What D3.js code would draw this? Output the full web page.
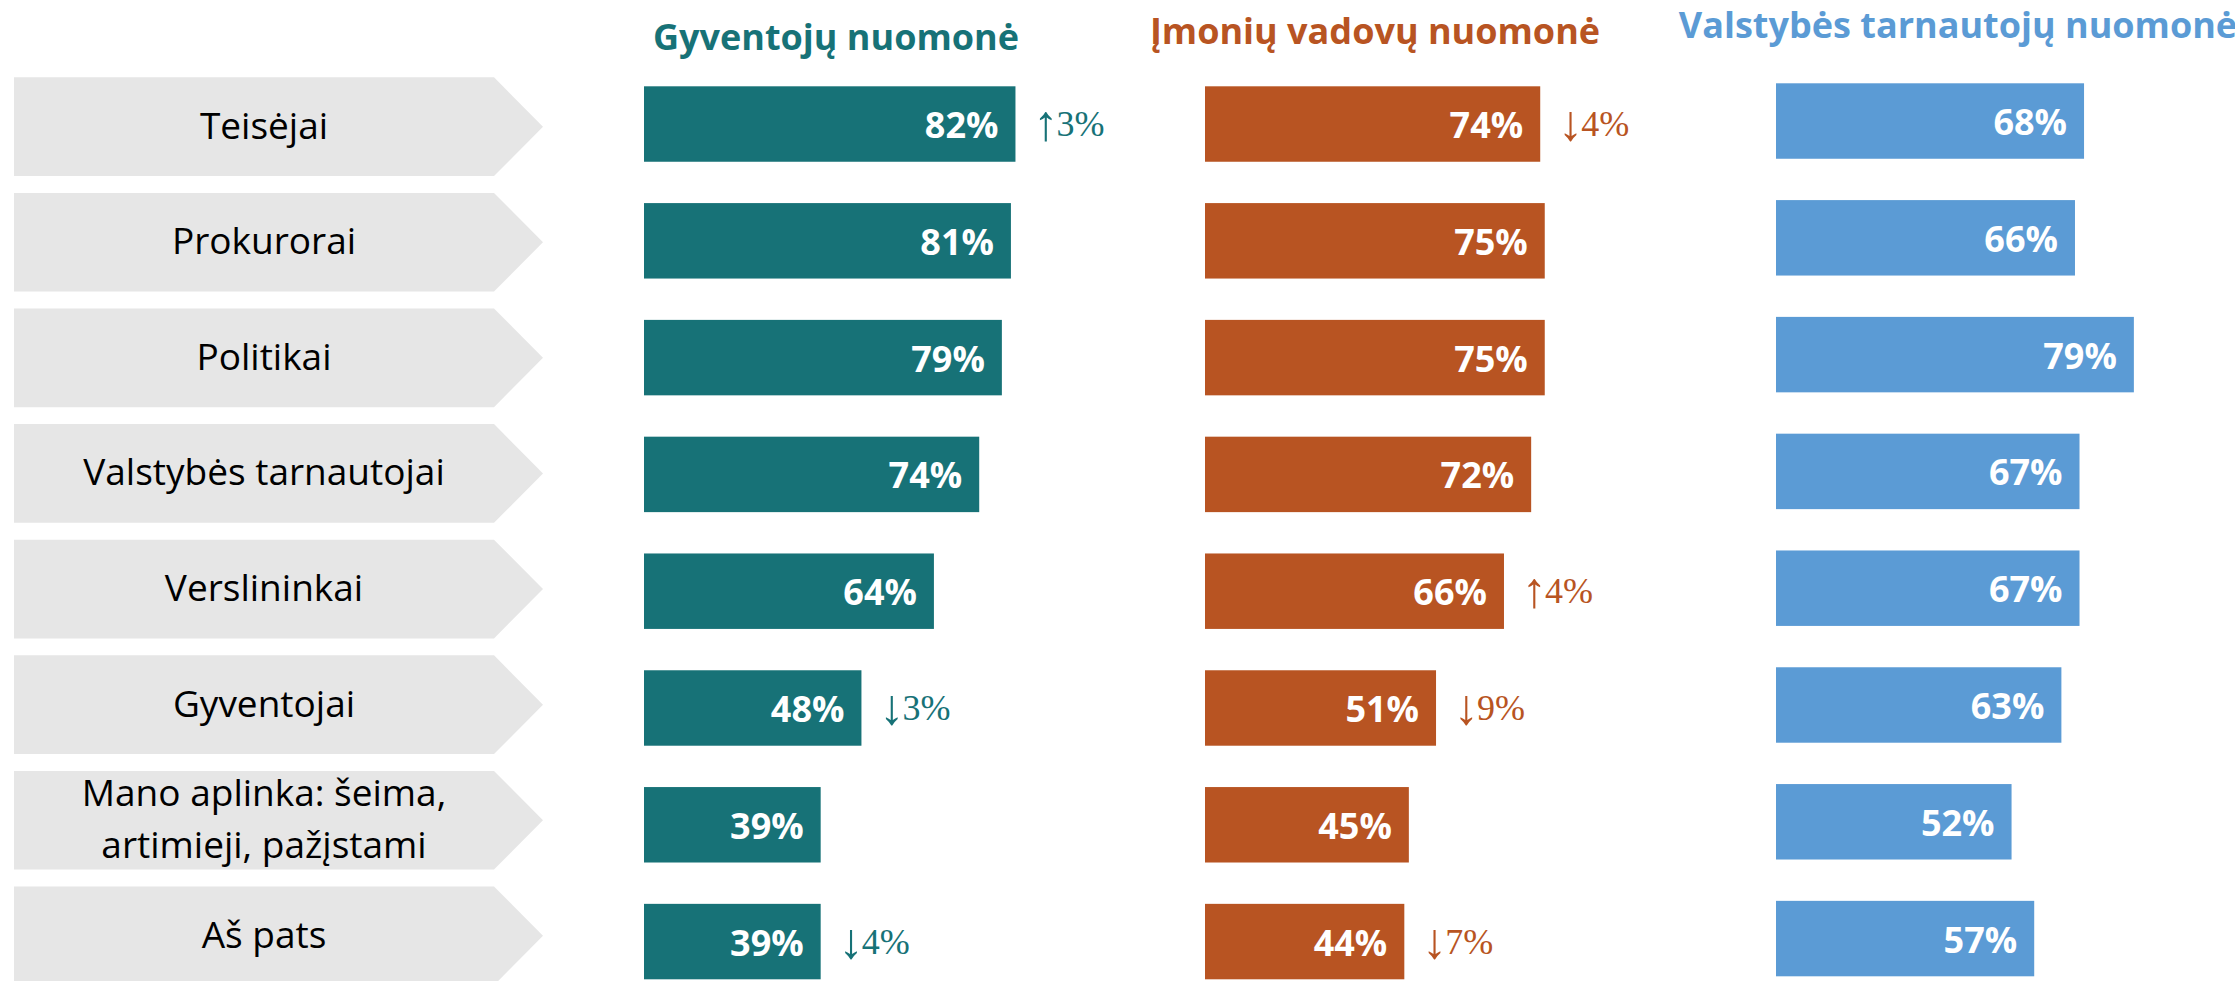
<!DOCTYPE html>
<html>
<head>
<meta charset="utf-8">
<script src="https://cdn.jsdelivr.net/npm/d3@7"></script>
<style>
  body { margin: 0; background: #fff; }
  text { font-family: "Open Sans", "Noto Sans", sans-serif; }
</style>
</head>
<body>
<svg id="chart"></svg>
<script>
// categories (rows), two-line labels split with "|"
var categories = ["Teisėjai", "Prokurorai", "Politikai", "Valstybės tarnautojai",
  "Verslininkai", "Gyventojai", "Mano aplinka: šeima,|artimieji, pažįstami", "Aš pats"];

// series titles
var seriesNames = ["Gyventojų nuomonė", "Įmonių vadovų nuomonė", "Valstybės tarnautojų nuomonė"];

// values, %
var gyventojai = [82, 81, 79, 74, 64, 48, 39, 39];
var imoniuVadovai = [74, 75, 75, 72, 66, 51, 45, 44];
var valstTarnautojai = [68, 66, 79, 67, 67, 63, 52, 57];

// change vs previous survey, percentage points (null = not shown)
var gyventojaiChange = [3, null, null, null, null, -3, null, -4];
var imoniuVadovaiChange = [-4, null, null, null, 4, -9, null, -7];
var valstTarnautojaiChange = [null, null, null, null, null, null, null, null];

var width = 2235, height = 981;

var svg = d3.select("#chart")
    .attr("width", width)
    .attr("height", height);

// column layout
var columns = [
  {values: gyventojai, change: gyventojaiChange, x0: 644, color: "#177277", titleX: 836, titleY: 50, dy: 0},
  {values: imoniuVadovai, change: imoniuVadovaiChange, x0: 1205, color: "#b85422", titleX: 1375, titleY: 44, dy: 0},
  {values: valstTarnautojai, change: valstTarnautojaiChange, x0: 1776, color: "#5b9bd5", titleX: 1958, titleY: 38, dy: -3}
];

var x = d3.scaleLinear().domain([0, 100]).range([0, 453]);

var y = d3.scaleBand()
    .domain(categories)
    .range([86.3, 979.3])
    .paddingInner(0.354)
    .paddingOuter(0);

var yBox = d3.scaleBand()
    .domain(categories)
    .range([77.3, 77.3 + 7 * 115.6 + 98.7])
    .paddingInner(1 - 98.7 / 115.6)
    .paddingOuter(0);

// label arrows
var boxL = 14, boxR = 494, tip = 543;
var labels = svg.append("g").selectAll("g")
    .data(categories)
  .enter().append("g")
    .attr("transform", function(d) { return "translate(0," + yBox(d) + ")"; });

labels.append("path")
    .attr("fill", "#e6e6e6")
    .attr("d", function() {
      var h = yBox.bandwidth();
      return "M" + boxL + ",0H" + boxR + "L" + tip + "," + (h / 2) + "L" + boxR + "," + h + "H" + boxL + "Z";
    });

labels.append("text")
    .attr("x", 264)
    .attr("text-anchor", "middle")
    .style("font-size", "37px")
    .style("fill", "#000")
    .each(function(d) {
      var lines = d.split("|");
      var h = yBox.bandwidth();
      var t = d3.select(this);
      lines.forEach(function(line, i) {
        t.append("tspan")
          .attr("x", 264)
          .attr("y", h / 2 + 12 + (i - (lines.length - 1) / 2) * 52)
          .text(line);
      });
    });

// titles
svg.append("g").selectAll("text")
    .data(columns)
  .enter().append("text")
    .attr("x", function(c) { return c.titleX; })
    .attr("y", function(c) { return c.titleY; })
    .attr("text-anchor", "middle")
    .style("font-size", "36px")
    .style("font-weight", "bold")
    .style("fill", function(c) { return c.color; })
    .text(function(c, i) { return seriesNames[i]; });

// bars, values, changes
columns.forEach(function(c) {
  var g = svg.append("g").attr("transform", "translate(" + c.x0 + "," + c.dy + ")");
  var rows = categories.map(function(cat, i) {
    return {cat: cat, value: c.values[i], change: c.change[i]};
  });

  g.selectAll("rect")
      .data(rows)
    .enter().append("rect")
      .attr("x", 0)
      .attr("y", function(d) { return y(d.cat); })
      .attr("width", function(d) { return x(d.value); })
      .attr("height", y.bandwidth())
      .style("fill", c.color);

  g.selectAll("text.val")
      .data(rows)
    .enter().append("text")
      .attr("class", "val")
      .attr("x", function(d) { return x(d.value) - 17; })
      .attr("y", function(d) { return y(d.cat) + y.bandwidth() / 2 + 14; })
      .attr("text-anchor", "end")
      .style("font-size", "36px")
      .style("font-weight", "bold")
      .style("fill", "#fff")
      .text(function(d) { return d.value + "%"; });

  var chg = g.selectAll("text.chg")
      .data(rows.filter(function(d) { return d.change !== null; }))
    .enter().append("text")
      .attr("class", "chg")
      .attr("x", function(d) { return x(d.value) + 18; })
      .attr("y", function(d) { return y(d.cat) + y.bandwidth() / 2 + 12; })
      .style("font-family", "'Liberation Serif', 'DejaVu Serif', serif")
      .style("fill", c.color);

  chg.append("tspan")
      .style("font-size", "50px")
      .attr("dy", 4)
      .text(function(d) { return d.change > 0 ? "↑" : "↓"; });

  chg.append("tspan")
      .style("font-size", "36px")
      .attr("dy", -4)
      .attr("dx", -2)
      .text(function(d) { return Math.abs(d.change) + "%"; });
});
</script>
</body>
</html>
